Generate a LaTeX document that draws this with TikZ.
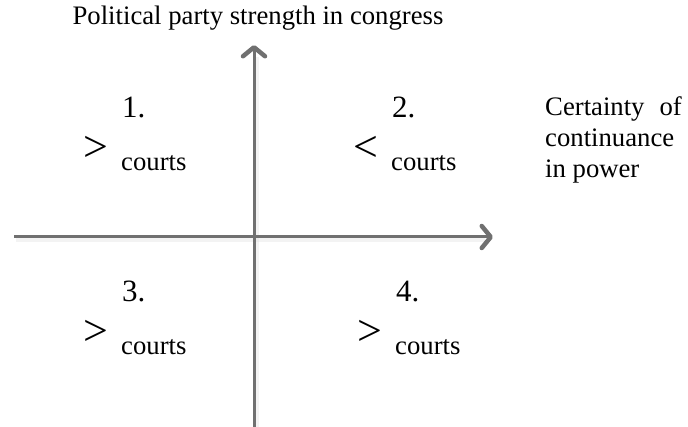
\documentclass[tikz,border=0pt]{standalone}
\usepackage{fontspec}
\setmainfont{Liberation Serif}
\usetikzlibrary{arrows.meta}
\usetikzlibrary{calc}
\usetikzlibrary{positioning}

\definecolor{axisgray}{RGB}{112,112,112}
\tikzset{
  axis/.style={draw=axisgray, line width=3pt,
    -{Straight Barb[length=9pt,width=22pt,line width=4.5pt,round]}},
  axisshade/.style={draw=black!12, line width=5pt, opacity=.4},
  label/.style={inner sep=0pt, font=\fontsize{26.7}{30.7}\selectfont},
  qnum/.style={inner sep=0pt, anchor=base west, font=\fontsize{31}{34}\selectfont},
  qsym/.style={inner sep=0pt, anchor=east, font=\fontsize{44}{48}\selectfont},
  qtext/.style={label, anchor=base west},
}

\begin{document}
\begin{tikzpicture}[x=1pt,y=-1pt]
    \useasboundingbox (0,0) rectangle (688,427);
    % axes
    \coordinate (xl) at (14,237);
    \coordinate (xr) at (493,237);
    \coordinate (yb) at (254,432);
    \coordinate (yt) at (254,45);
    \draw [axisshade] ($(xl)+(2,3)$) -- ($(xr)+(-8,3)$);
    \draw [axisshade] ($(yb)+(2,3)$) -- ($(yt)+(2,12)$);
    \draw [axis] (xl) -- (xr);
    \draw [axis] (yb) -- (yt);

    \node [label, anchor=base] (title) at (258,25) {Political party strength in congress};
    \node [label, anchor=north west, align=left] (certainty) at (545,97)
        {Certainty\hspace{15pt}of\\continuance\\in power};

    % quadrants
    \foreach \n/\x/\y/\s in {1/122/118/>, 2/392/118/<, 3/122/302/>, 4/396/302/>} {
        \node [qnum] (num\n) at (\x,\y) {\n.};
        \node [qtext] (courts\n) at ($(num\n.base west)+(-1,53)$) {courts};
        \node [qsym] (sym\n) at ($(courts\n.base west)+(-12,-22)$) {\s};
    }
\end{tikzpicture}
\end{document}
